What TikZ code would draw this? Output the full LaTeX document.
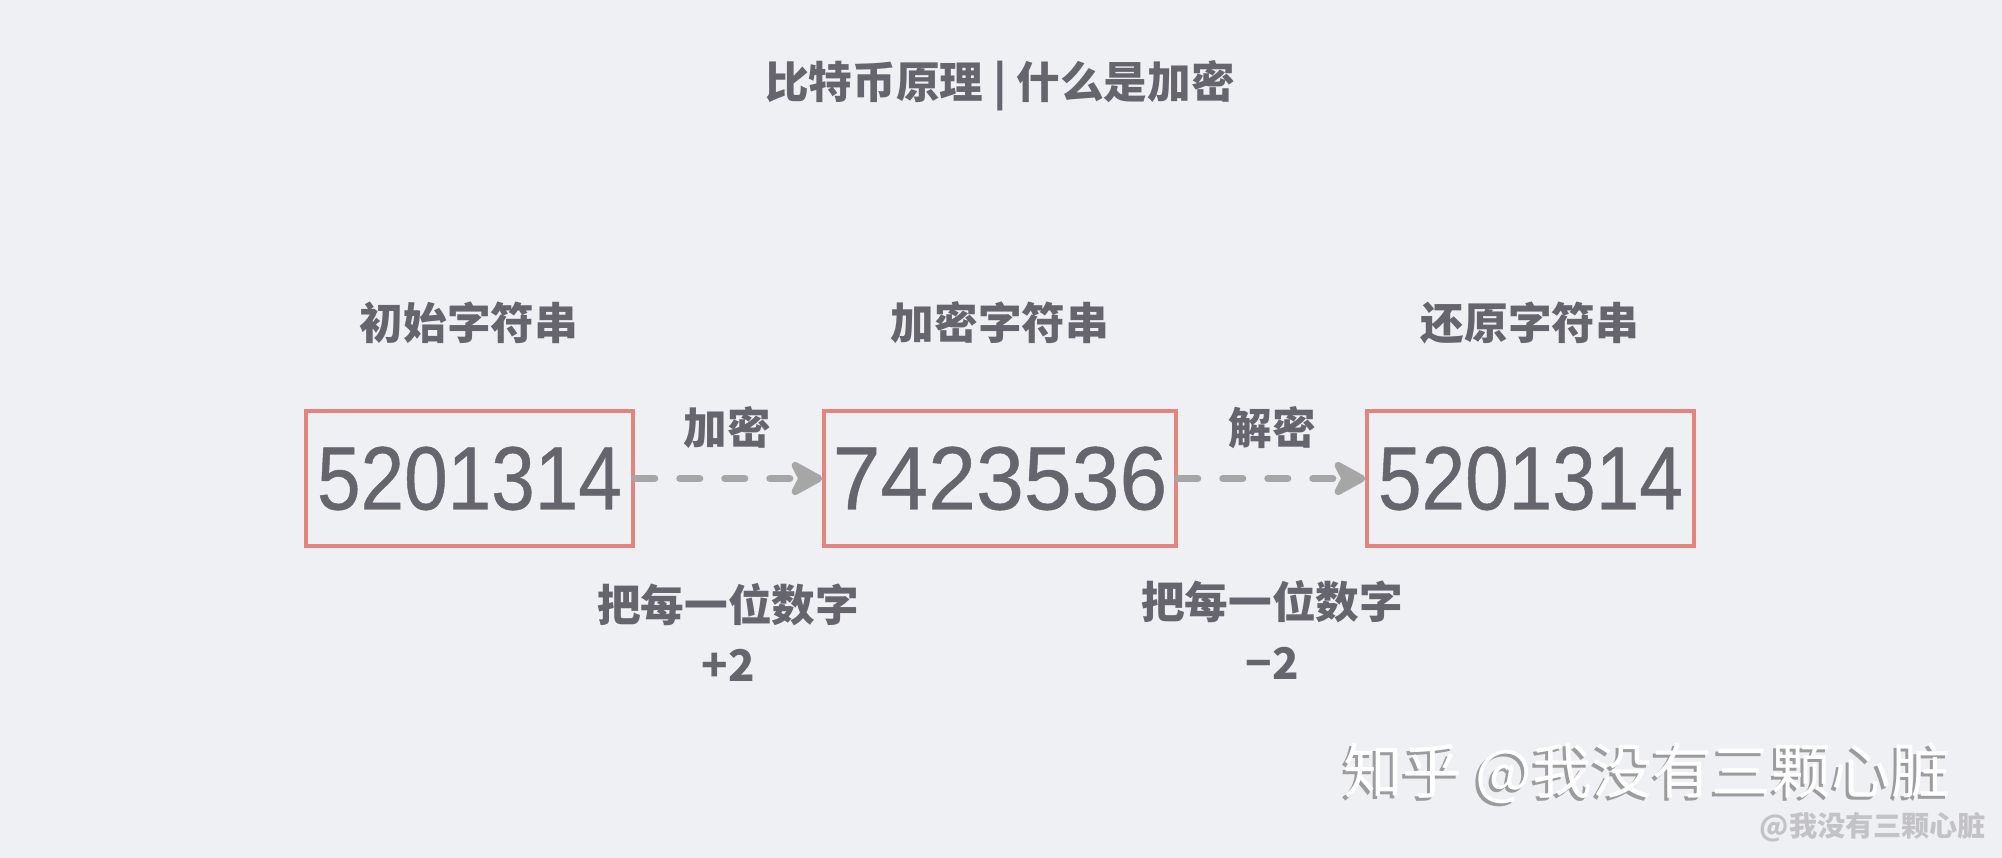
\documentclass[tikz,border=0pt]{standalone}
\usepackage{fontspec}
\newfontfamily\cjk{Noto Sans CJK SC}
\newfontfamily\numfont[FakeStretch=0.87,FakeBold=0.5]{Liberation Sans}
\newfontfamily\numfontw[FakeStretch=0.955,FakeBold=0.5]{Liberation Sans}
\usetikzlibrary{arrows.meta}
\definecolor{bgc}{HTML}{EFF0F4}
\definecolor{txc}{HTML}{66656E}
\definecolor{boxc}{HTML}{E5847F}
\definecolor{arrc}{HTML}{A6A6A6}
\definecolor{wmshadow}{HTML}{9C9C9E}
\definecolor{wmsmall}{HTML}{C3C3C7}
\tikzset{
  lbl/.style={text=txc, font=\cjk\bfseries\fontsize{12.4pt}{14pt}\selectfont, inner sep=0pt},
  numbox/.style={draw=boxc, line width=1pt, inner sep=0pt, text=txc,
    font=\numfont\fontsize{25.6pt}{28pt}\selectfont, minimum height=135*0.01cm},
  flow/.style={draw=arrc, line width=2pt, line cap=round, dash pattern=on 5.7pt off 7.1pt,
    -{Stealth[length=11pt, width=12pt, inset=3pt, round]}},
  wmbig/.style={font=\cjk\fontsize{17pt}{19pt}\selectfont, inner sep=0pt},
  wmsm/.style={text=wmsmall, font=\cjk\bfseries\fontsize{8pt}{9pt}\selectfont, inner sep=0pt}
}
\begin{document}
\begin{tikzpicture}[x=0.01cm, y=-0.01cm]
\fill[bgc] (0,0) rectangle (2002,858);
\useasboundingbox (0,0) rectangle (2002,858);
\node[lbl] (title) at (1000,86) {比特币原理 | 什么是加密};
\node[lbl] (l1) at (469,323) {初始字符串};
\node[lbl] (l2) at (1000,323) {加密字符串};
\node[lbl] (l3) at (1530,323) {还原字符串};
\node[numbox, minimum width=327*0.01cm] (b1) at (469.5,478.5) {5201314};
\node[numbox, minimum width=352*0.01cm, font=\numfontw\fontsize{25.6pt}{28pt}\selectfont] (b2) at (1000,478.5) {7423536};
\node[numbox, minimum width=327*0.01cm] (b3) at (1530.5,478.5) {5201314};
\draw[flow] (b1.east) -- (b2.west);
\draw[flow] (b2.east) -- (b3.west);
\node[lbl] (e1) at (727,428) {加密};
\node[lbl] (e2) at (1272,428) {解密};
\node[lbl] (r1) at (728,605) {把每一位数字};
\node[lbl] (p1) at (728,665) {+2};
\node[lbl] (r2) at (1272,602) {把每一位数字};
\node[lbl] (p2) at (1272,663) {−2};
\node[wmbig, text=wmshadow] (wms) at (1644,776) {知乎 @我没有三颗心脏};
\node[wmbig, text=white] (wm) at (1647,773) {知乎 @我没有三颗心脏};
\node[wmsm] (wm2) at (1873,827) {@我没有三颗心脏};
\end{tikzpicture}
\end{document}
